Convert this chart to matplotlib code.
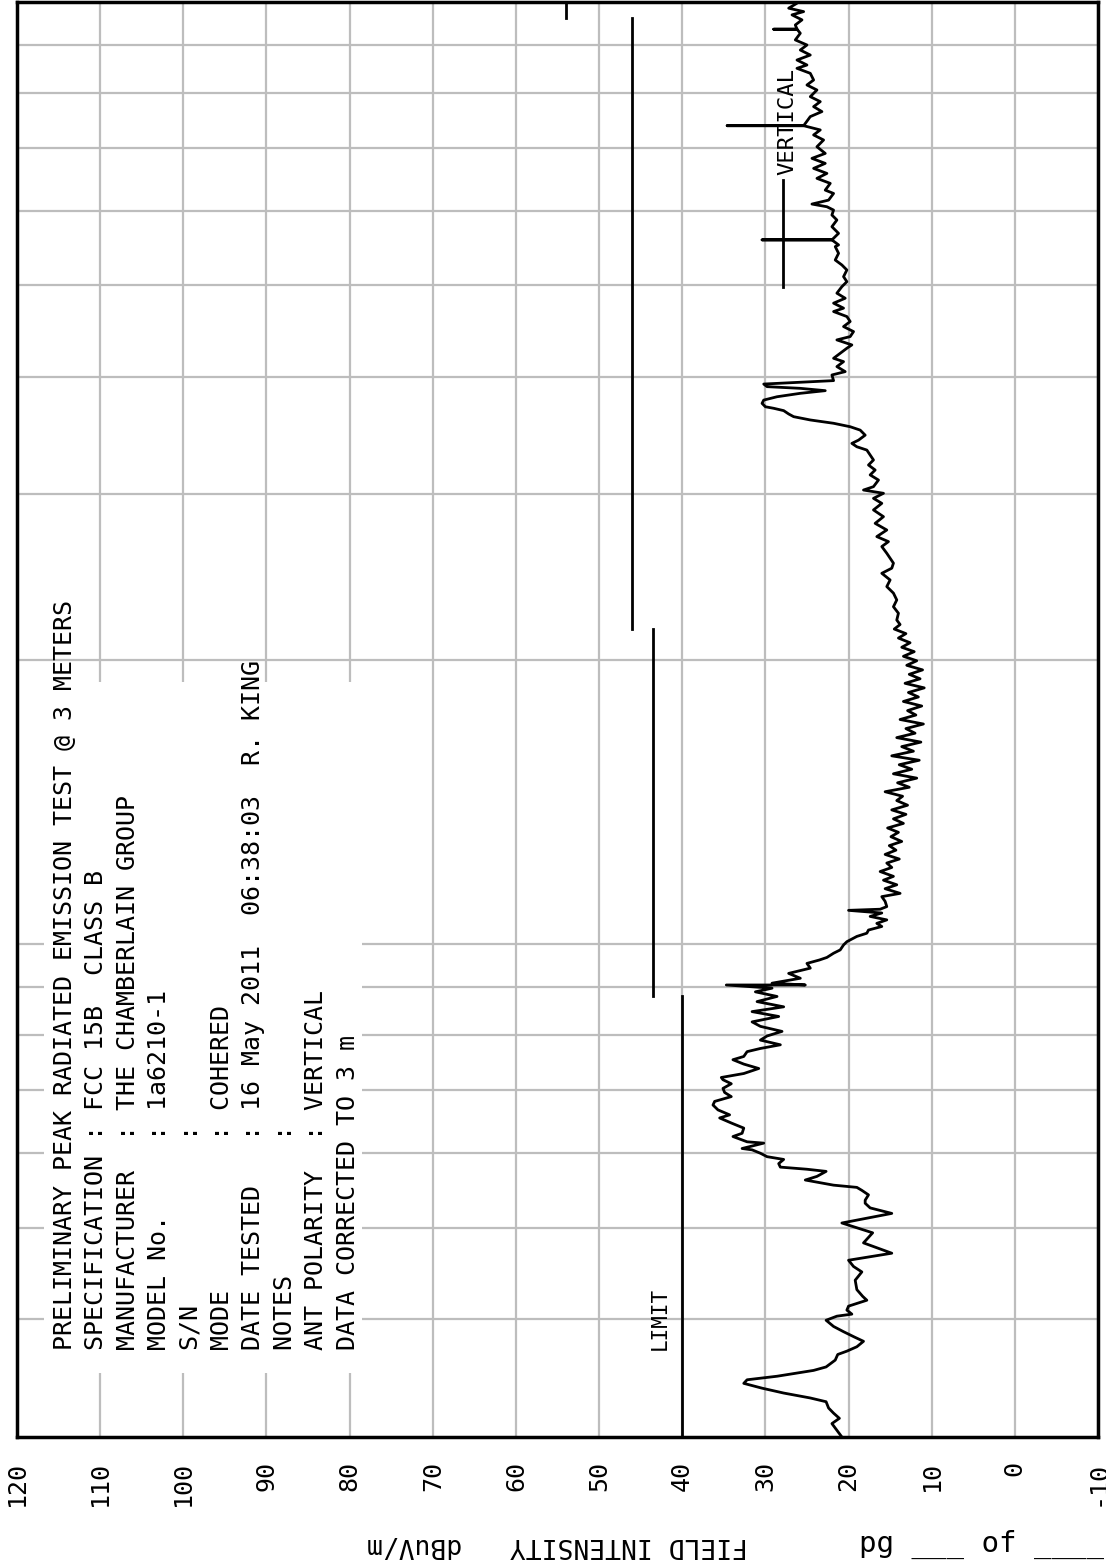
import matplotlib
matplotlib.use("Agg")
import matplotlib.pyplot as plt
from matplotlib.patches import Rectangle

# measured trace (frequency in MHz, field intensity in dBuV/m)
freq_mhz = [
    30.0, 30.5, 31.0, 31.4, 31.8, 32.2, 32.7, 33.0, 33.4, 33.8, 34.2, 34.5, 34.8, 35.3, 35.6,
    36.2, 36.7, 37.0, 37.4, 37.9, 38.3, 38.8, 39.3, 39.9, 40.3, 40.5, 40.9, 41.3, 41.9, 42.3,
    43.0, 44.0, 44.9, 45.5, 46.2, 47.0, 48.2, 49.4, 50.6, 51.8, 52.5, 53.1,
    53.5, 54.2, 54.8, 55.2, 55.5, 56.2, 56.7, 57.4, 57.7, 58.0, 58.5, 59.1, 59.5, 60.0, 60.5,
    60.7, 61.5, 61.7, 62.5, 63.0, 63.8, 64.6, 65.4, 65.9, 66.7, 67.5, 68.1, 68.9, 69.6, 70.3,
    71.1, 71.8, 72.2, 72.9, 73.8, 74.6, 75.4, 76.0, 76.9, 77.5, 78.2, 79.1, 79.9, 80.8, 81.8,
    82.7, 83.8, 84.8, 85.8, 86.9, 88.0, 89.0, 89.8, 90.5, 90.5, 90.9, 92.0, 93.1, 94.3, 95.4,
    96.2, 96.8, 97.8, 98.6, 99.8, 100.6, 101.9, 102.7, 103.5, 104.4, 105.2, 106.1, 107.0, 107.9,
    108.6, 108.9, 109.6, 111.0, 112.3, 113.2,
    114.5, 115.6, 116.9, 118.0, 119.4, 120.6, 121.9, 123.1, 124.5, 125.8, 127.2, 128.5, 130.0,
    131.4, 132.8, 134.3, 135.8, 137.3, 138.8, 140.4, 142.0, 143.5, 145.1, 146.7, 148.3, 150.0,
    151.6, 153.3, 155.0, 156.7, 158.4, 160.2, 162.0, 163.8, 165.6, 167.4, 169.3, 171.2, 173.1,
    175.0, 176.9, 178.9, 180.9, 182.9, 184.9, 187.0, 189.1, 191.2, 193.3, 195.4, 197.6, 199.8,
    202.0, 204.3, 206.5, 208.8, 211.2, 213.5, 215.9, 218.3,
    220.7, 224.4, 228.0, 231.8, 235.7, 239.5, 243.4, 247.4, 250.5, 253.6, 259.8, 264.1, 267.3,
    270.6, 275.0, 279.5, 284.1, 288.8, 293.5, 297.1, 300.8, 303.2,
    305.7, 310.7, 314.6, 318.4, 322.3, 326.3, 330.3, 334.3, 337.0, 339.8, 342.5, 346.7, 351.0,
    353.9, 356.9, 359.8, 362.7, 365.1, 368.1, 370.2, 371.6, 374.7, 377.7, 380.8, 384.0, 386.5,
    388.7, 390.3, 392.8, 396.1, 401.6, 404.9, 409.9, 414.9, 418.3, 423.5, 428.7, 432.2, 437.5,
    441.1, 446.5, 452.0, 457.6, 463.2, 468.9, 472.8, 478.6, 484.4, 490.4, 498.3, 504.4, 510.6,
    519.0, 525.4, 531.8, 540.6, 549.5,
    551.8, 558.6, 558.6, 558.6, 567.6, 576.9, 586.4, 593.6, 600.8, 605.7, 609.7, 615.6, 625.7,
    630.8, 641.3, 649.2, 657.1, 665.2, 673.4, 681.7, 690.0, 701.3, 713.0, 721.8, 730.7,
    738.3, 738.3, 738.3, 754.9, 764.2, 773.5, 783.0, 792.6, 805.6, 815.5, 825.5, 839.1, 849.4,
    856.3, 866.8, 877.4, 888.2, 899.2, 910.4, 925.4, 934.6, 934.6, 934.6, 944.3, 956.1, 967.9,
    975.6, 983.8, 995.8, 1000.0,
]
level_dbuv = [
    20.8, 21.4, 22.0, 21.1, 21.8, 22.4, 22.7, 24.6, 27.8, 30.4, 32.6, 32.2, 28.6, 24.2, 22.7,
    21.6, 21.3, 20.2, 19.0, 18.2, 19.3, 20.6, 21.8, 22.7, 21.4, 19.6, 20.2, 20.0, 17.8, 18.3,
    19.0, 19.2, 18.4, 19.4, 20.0, 14.8, 18.2, 17.1, 20.8, 14.8, 17.4, 18.0,
    18.0, 17.6, 18.4, 19.0, 21.8, 25.2, 23.8, 22.7, 25.0, 28.2, 28.4, 27.8, 29.8, 30.6, 31.6,
    32.8, 30.2, 32.2, 33.9, 32.8, 32.6, 34.1, 35.5, 34.3, 35.7, 36.3, 36.1, 34.1, 34.9, 35.1,
    34.1, 35.1, 35.3, 32.6, 30.8, 32.6, 33.9, 32.6, 32.2, 30.6, 28.2, 30.6, 29.8, 28.0, 30.6,
    31.6, 28.4, 31.6, 27.8, 31.0, 28.6, 31.2, 29.2, 34.7, 25.2, 29.2, 25.8, 27.2, 24.6, 25.0,
    23.5, 22.6, 21.8, 21.0, 20.6, 20.2, 19.0, 17.8, 17.6, 16.0, 16.6, 15.4, 17.4, 16.0,
    20.0, 16.2, 15.4, 15.6, 16.0, 13.8,
    15.6, 14.2, 15.8, 14.6, 16.2, 14.8, 15.4, 13.9, 15.6, 14.3, 15.1, 13.6, 14.9,
    14.0, 15.3, 13.4, 14.6, 13.1, 14.8, 12.9, 14.2, 13.5, 15.6, 12.7, 14.1, 11.8,
    14.6, 12.4, 13.9, 11.5, 14.8, 12.2, 13.6, 11.3, 14.2, 12.0, 13.1, 11.0, 13.8,
    11.9, 12.9, 11.2, 13.4, 11.6, 12.8, 10.9, 13.2, 11.4, 12.7, 11.1, 13.0, 11.8,
    13.4, 12.1, 13.6, 12.6, 14.0, 13.1, 14.5, 13.8,
    14.2, 14.0, 14.6, 14.2, 14.6, 15.4, 15.0, 16.0, 14.8, 14.6, 15.4, 16.0, 15.2,
    16.6, 15.4, 16.8, 15.8, 17.0, 16.0, 17.0, 15.8, 18.2,
    17.0, 16.4, 17.4, 16.8, 17.6, 17.0, 17.4, 17.8, 19.0, 19.6, 18.8, 18.0, 18.6,
    19.8, 21.8, 24.6, 26.6, 27.2, 27.8, 29.0, 30.0, 30.4, 30.2, 28.6, 25.8, 22.8,
    25.8, 29.8, 30.2, 21.8, 22.0, 20.4, 21.4, 20.6, 21.8, 21.0, 20.2, 19.6, 21.4,
    19.8, 19.4, 20.6, 19.8, 20.2, 21.8, 20.6, 21.8, 20.4, 21.4, 20.8, 20.2, 20.6,
    20.2, 20.8, 21.6, 21.2, 21.6,
    21.2, 22.0, 30.4, 22.0, 21.2, 22.0, 21.4, 22.0, 21.8, 22.6, 24.4, 22.4, 21.8,
    22.8, 22.2, 23.8, 22.6, 24.2, 22.8, 24.4, 22.8, 23.8, 23.0, 24.2, 23.4,
    25.4, 34.6, 25.4, 24.6, 23.2, 24.2, 23.4, 24.6, 23.8, 25.0, 24.2, 24.6, 26.2,
    25.0, 26.2, 24.6, 25.8, 25.0, 26.4, 25.8, 26.2, 29.0, 26.2, 26.4, 25.6, 26.8,
    25.4, 27.2, 26.2, 26.6,
]

# FCC 15B class B limit at 3 m
limit_edges = [30, 88, 216, 960, 1000]
limit_levels = [40, 43.5, 46, 54]

amp_ticks = list(range(120, -11, -10))
freq_grid = [40, 50, 60, 70, 80, 90, 100, 200, 300, 400, 500, 600, 700, 800, 900]

header_lines = [
    "PRELIMINARY PEAK RADIATED EMISSION TEST @ 3 METERS",
    "SPECIFICATION : FCC 15B  CLASS B",
    "MANUFACTURER  : THE CHAMBERLAIN GROUP",
    "MODEL No.     : 1a6210-1",
    "S/N           :",
    "MODE          : COHERED",
    "DATE TESTED   : 16 May 2011  06:38:03  R. KING",
    "NOTES         :",
    "ANT POLARITY  : VERTICAL",
    "DATA CORRECTED TO 3 m",
]

mono = "DejaVu Sans Mono"
W, H = 1106, 1564

fig = plt.figure(figsize=(W / 100, H / 100), dpi=100)
ax = fig.add_axes([17 / W, 127 / H, 1081 / W, 1435.5 / H])

ax.set_xlim(120, -10)
ax.set_yscale("log")
ax.set_ylim(30, 1000)
ax.set_axisbelow(True)

ax.set_xticks(amp_ticks)
ax.set_xticklabels([str(t) for t in amp_ticks], rotation=90, family=mono, fontsize=18)
ax.set_yticks(freq_grid)
ax.set_yticks([], minor=True)
ax.set_yticklabels([])
ax.tick_params(axis="both", length=0)
ax.tick_params(axis="x", pad=17)
ax.grid(True, color="#bdbdbd", linewidth=1.6)
for s in ax.spines.values():
    s.set_linewidth(2.5)
    s.set_color("black")

# white area behind the header block
ax.add_patch(Rectangle((0.025, 0.0446), 0.294, 0.4814, transform=ax.transAxes,
                       facecolor="white", edgecolor="none", zorder=1))

# limit line
for i, lev in enumerate(limit_levels):
    ax.plot([lev, lev], [limit_edges[i], limit_edges[i + 1]], color="black", lw=2.0, zorder=3)

# trace
ax.plot(level_dbuv, freq_mhz, color="black", lw=2.0, zorder=4)

# header block
for i, line in enumerate(header_lines):
    ax.text(0.0444 + i * 0.02905, 0.0606, line, transform=ax.transAxes, rotation=90,
            ha="center", va="bottom", family=mono, fontsize=18, zorder=5)

ax.text(0.595, 0.0606, "LIMIT", transform=ax.transAxes, rotation=90,
        ha="center", va="bottom", family=mono, fontsize=15, zorder=5)

# legend
ax.plot([0.7086, 0.7086], [0.801, 0.8757], transform=ax.transAxes, color="black", lw=2.0)
ax.text(0.7125, 0.879, "VERTICAL", transform=ax.transAxes, rotation=90,
        ha="center", va="bottom", family=mono, fontsize=16, zorder=5)

fig.text(557 / W, (H - 1545) / H, "FIELD INTENSITY   dBuV/m", rotation=180,
         ha="center", va="center", family=mono, fontsize=19)
fig.text(859 / W, (H - 1552) / H, "pg ___ of ____", ha="left", va="baseline",
         family=mono, fontsize=21)

fig.savefig("out.png", dpi=100)
